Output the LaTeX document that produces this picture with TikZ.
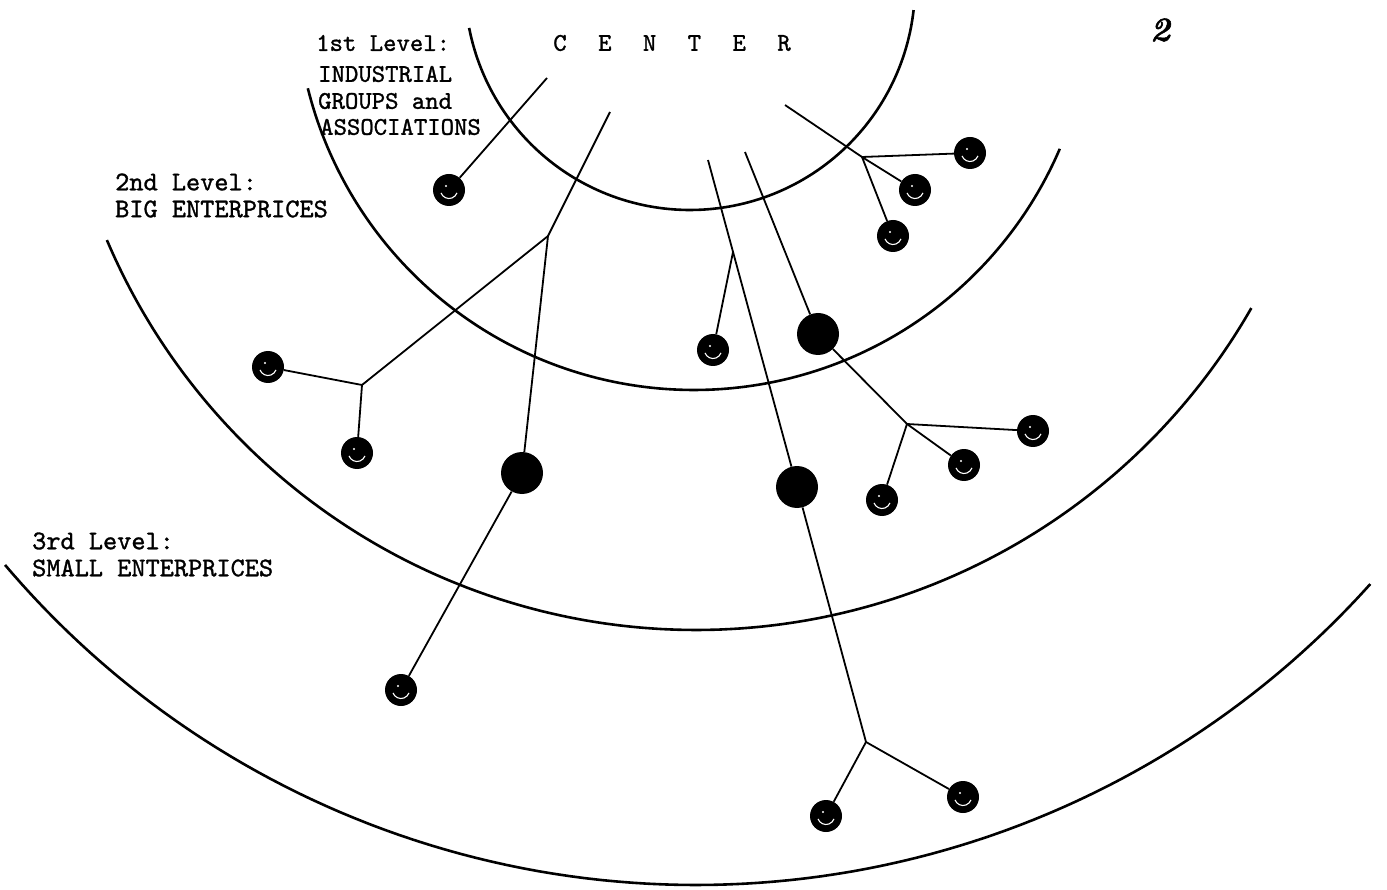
\documentclass[tikz,border=0pt]{standalone}
\usepackage{fontspec}
\newfontfamily\tw{lmmono10-regular.otf}[FakeBold=1.2]
\newfontfamily\hand{lmroman10-bolditalic.otf}[FakeBold=1.5]
\begin{document}
\begin{tikzpicture}[x=1pt,y=-1pt,
  arcline/.style={line width=2.6pt},
  twig/.style={line width=1.8pt},
  lblA/.style={anchor=west,inner sep=0pt,font=\fontsize{25.5}{26}\selectfont\tw},
  lblB/.style={anchor=west,inner sep=0pt,font=\fontsize{27}{28}\selectfont\tw},
  ctr/.style={inner sep=0pt,font=\fontsize{25.5}{26}\selectfont\tw},
  sc/.style={circle,fill=black,minimum size=32pt,inner sep=0pt,
    path picture={\draw[white,line width=1.1pt] ([shift={(200:8.5pt)}]path picture bounding box.center) arc[start angle=200,end angle=340,radius=8.5pt];
    \fill[white] ([shift={(-3pt,4pt)}]path picture bounding box.center) circle (1.2pt);}},
  bd/.style={circle,fill=black,minimum size=42pt,inner sep=0pt}]
\useasboundingbox (0,0) rectangle (1387,890);
% arcs
\draw[arcline] plot[domain=169:6.4,samples=120] ({690+225*cos(\x)},{-15+225*sin(\x)});
\draw[arcline] plot[domain=166:23.2,samples=160] ({694+398*cos(\x)},{-8+398*sin(\x)});
\draw[arcline] plot[domain=157:29.8,samples=200] ({696+640*cos(\x)},{-10+640*sin(\x)});
\draw[arcline] plot[domain=139.7:41.9,samples=240] ({696+906*cos(\x)},{-21+906*sin(\x)});
% labels
\node[lblA] (l1a) at (316,43) {1st Level:};
\node[lblA] (l1b) at (318,74) {INDUSTRIAL};
\node[lblA] (l1c) at (318,101) {GROUPS and};
\node[lblA] (l1d) at (320,127) {ASSOCIATIONS};
\foreach \l [count=\i] in {C,E,N,T,E,R}
  \node[ctr] (c\i) at ({560+44.8*(\i-1)},43) {\l};
\node[lblB] (l2a) at (115,182) {2nd Level:};
\node[lblB] (l2b) at (115,209) {BIG ENTERPRICES};
\node[lblB] (l3a) at (32,541) {3rd Level:};
\node[lblB] (l3b) at (32,568) {SMALL ENTERPRICES};
\node[font=\fontsize{34}{34}\selectfont\hand] (pg) at (1160,30) {2};
% tree A
\coordinate (a0) at (547,78);
\node[sc] (a1) at (449,190) {};
\draw[twig] (a0) -- (a1);
% tree B
\coordinate (b0) at (610,112);
\coordinate (bj) at (548,236);
\coordinate (bk) at (362,385);
\node[bd] (bd1) at (522,473) {};
\node[sc] (b1) at (268,367) {};
\node[sc] (b2) at (357,453) {};
\node[sc] (b3) at (401,690) {};
\draw[twig] (b0) -- (bj) -- (bd1) -- (b3);
\draw[twig] (bj) -- (bk) -- (b1);
\draw[twig] (bk) -- (b2);
% tree C
\coordinate (c0) at (708,160);
\coordinate (cj) at (866,742);
\node[bd] (cd1) at (797,487) {};
\node[sc] (cc1) at (826,816) {};
\node[sc] (cc2) at (963,797) {};
\draw[twig] (c0) -- (cd1) -- (cj) -- (cc1);
\draw[twig] (cj) -- (cc2);
% tree D
\coordinate (d0) at (745,152);
\coordinate (dj) at (907,424);
\node[bd] (dd1) at (818,334) {};
\node[sc] (d1) at (1033,431) {};
\node[sc] (d2) at (964,465) {};
\node[sc] (d3) at (882,500) {};
\draw[twig] (d0) -- (dd1) -- (dj) -- (d1);
\draw[twig] (dj) -- (d2);
\draw[twig] (dj) -- (d3);
% tree E
\coordinate (e0) at (733,252);
\node[sc] (e1) at (713,350) {};
\draw[twig] (e0) -- (e1);
% tree F
\coordinate (f0) at (785,105);
\coordinate (fj) at (862,157);
\node[sc] (f1) at (970,153) {};
\node[sc] (f2) at (915,190) {};
\node[sc] (f3) at (893,236) {};
\draw[twig] (f0) -- (fj) -- (f1);
\draw[twig] (fj) -- (f2);
\draw[twig] (fj) -- (f3);
\end{tikzpicture}
\end{document}
